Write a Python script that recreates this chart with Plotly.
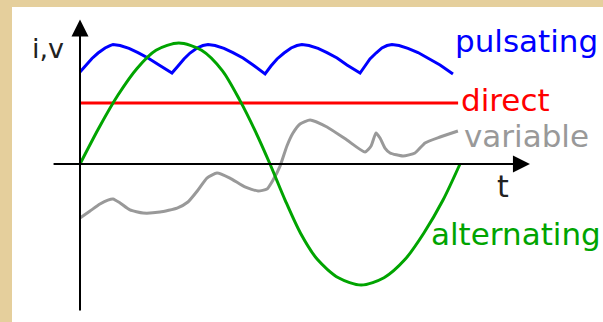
import plotly.graph_objects as go

# ---- data (time units: one AC period = 20; amplitude units: AC peak = 10) ----
alt_t = [0, 1, 2, 3, 4, 5.2, 6.4, 7.5, 8.4, 9.2, 10, 10.8, 11.6, 12.5, 13.6, 14.8, 16.0, 17.1, 18.1, 19.1, 20]
alt_v = [0, 3.0, 5.7, 7.9, 9.4, 10.0, 9.4, 7.7, 5.3, 2.8, 0, -3.0, -5.7, -7.9, -9.4, -10.0, -9.4, -7.9, -5.7, -3.0, 0]

puls_t = [0, 0.32, 0.63, 0.95, 1.32, 1.58, 1.74, 2.11, 2.58, 3.05, 3.58, 4.16, 4.84,
          5.16, 5.47, 5.79, 6.16, 6.47, 6.74, 7.11, 7.58, 8.05, 8.58, 9.11, 9.74,
          10.05, 10.37, 10.74, 11.11, 11.42, 11.68, 12.05, 12.53, 13.0, 13.53, 14.05, 14.74,
          15.0, 15.26, 15.58, 15.89, 16.16, 16.42, 16.79, 17.26, 17.79, 18.32, 18.95, 19.63]
puls_v = [7.60, 8.18, 8.72, 9.17, 9.59, 9.79, 9.88, 9.79, 9.55, 9.21, 8.76, 8.18, 7.52,
          8.10, 8.68, 9.17, 9.59, 9.79, 9.88, 9.79, 9.55, 9.21, 8.76, 8.18, 7.44,
          8.10, 8.68, 9.17, 9.59, 9.79, 9.88, 9.79, 9.55, 9.21, 8.76, 8.18, 7.52,
          8.10, 8.68, 9.17, 9.59, 9.79, 9.88, 9.79, 9.55, 9.21, 8.76, 8.18, 7.44]

direct_t = [0, 19.9]
direct_v = [5.04, 5.04]

var_t = [0, 0.53, 1.05, 1.47, 1.74, 2.11, 2.63, 3.32, 4.21, 5.11, 5.68, 6.21, 6.68, 7.21, 7.89,
         8.68, 9.37, 9.84, 10.16, 10.53, 10.89, 11.21, 11.58, 12.11, 13.0, 14.05, 15.0, 15.32,
         15.58, 15.79, 16.05, 16.32, 17.0, 17.63, 18.16, 18.95, 19.89]
var_v = [-4.46, -3.88, -3.31, -2.98, -2.89, -3.22, -3.80, -4.05, -3.97, -3.64, -3.14, -2.15, -1.16,
         -0.74, -1.16, -1.90, -2.23, -2.07, -1.32, -0.17, 1.49, 2.56, 3.31, 3.64, 3.06, 1.98, 0.99,
         1.49, 2.56, 2.15, 1.32, 0.91, 0.66, 0.91, 1.74, 2.23, 2.73]

labels = ["pulsating", "direct", "variable", "alternating"]
label_t = [19.62, 19.96, 20.1, 18.35]
label_v = [10.14, 5.26, 2.29, -5.81]
colors = ["#0000FF", "#FF0000", "#999999", "#00A400"]

x_axis_span = [-1.47, 23.68]
y_axis_span = [-12.23, 11.95]

FONT = "DejaVu Sans"

fig = go.Figure()

series = [(puls_t, puls_v, colors[0], "linear", 0),
          (direct_t, direct_v, colors[1], "linear", 0),
          (var_t, var_v, colors[2], "spline", 0.5),
          (alt_t, alt_v, colors[3], "spline", 0.8)]
for t, v, c, shape, sm in series:
    line = dict(color=c, width=3, shape=shape)
    if shape == "spline":
        line["smoothing"] = sm
    fig.add_trace(go.Scatter(x=t, y=v, mode="lines", line=line,
                             hoverinfo="skip", showlegend=False))

# axes with arrows
fig.add_annotation(x=x_axis_span[1], y=0, ax=x_axis_span[0], ay=0, xref="x", yref="y",
                   axref="x", ayref="y", text="", showarrow=True, arrowhead=2,
                   arrowsize=1.7, arrowwidth=2, arrowcolor="black")
fig.add_annotation(x=0, y=y_axis_span[1], ax=0, ay=y_axis_span[0], xref="x", yref="y",
                   axref="x", ayref="y", text="", showarrow=True, arrowhead=2,
                   arrowsize=1.7, arrowwidth=2, arrowcolor="black")

for txt, t, v, c in zip(labels, label_t, label_v, colors):
    fig.add_annotation(x=t, y=v, xref="x", yref="y", text=txt, showarrow=False,
                       xanchor="left", yanchor="middle",
                       font=dict(family=FONT, size=31, color=c))

fig.add_annotation(x=21.85, y=-1.84, xref="x", yref="y", text="t", showarrow=False,
                   xanchor="left", yanchor="middle",
                   font=dict(family=FONT, size=30, color="#222222"))
fig.add_annotation(x=-0.75, y=9.55, xref="x", yref="y", text="i,v", showarrow=False,
                   xanchor="right", yanchor="middle",
                   font=dict(family=FONT, size=27, color="#222222"))

fig.add_shape(type="rect", xref="paper", yref="paper", x0=12 / 603, x1=1.0, y0=0, y1=1 - 7 / 322,
              fillcolor="white", line=dict(width=0), layer="below")

fig.update_layout(
    width=603, height=322,
    margin=dict(l=0, r=0, t=0, b=0),
    paper_bgcolor="#E5CF9C",
    plot_bgcolor="rgba(0,0,0,0)",
    xaxis=dict(range=[-80 / 19, 523 / 19], visible=False, fixedrange=True),
    yaxis=dict(range=[-158 / 12.1, 164 / 12.1], visible=False, fixedrange=True),
)

fig.write_html("out.html", config={"displayModeBar": False},
               post_script="document.body.style.margin='0';document.body.style.overflow='hidden';")
